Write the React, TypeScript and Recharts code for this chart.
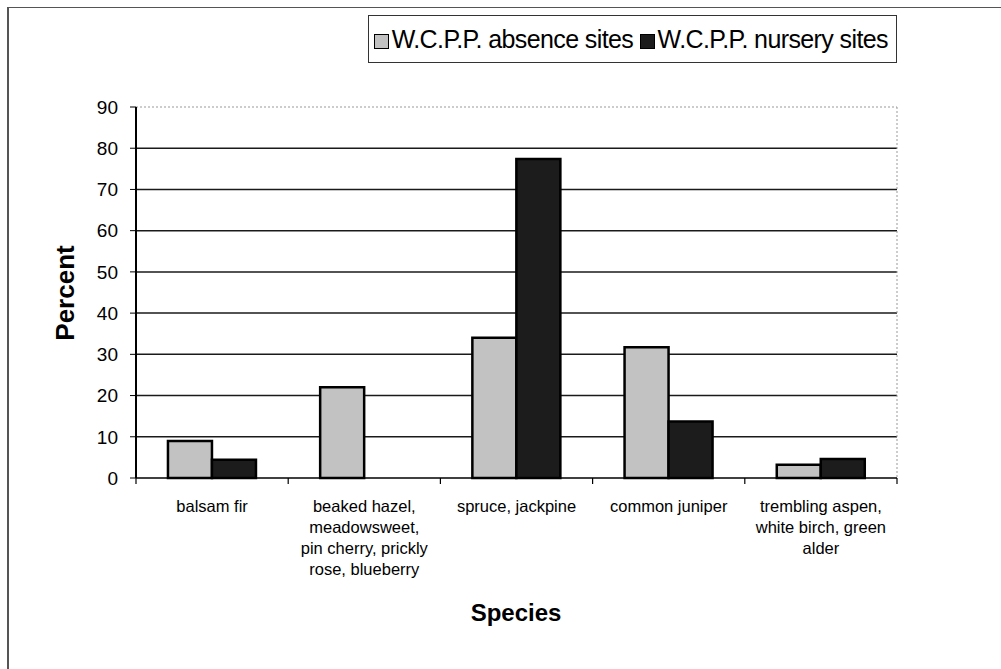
import { BarChart, Bar, XAxis, YAxis, CartesianGrid, ReferenceLine } from 'recharts';

const categories = [
  'balsam fir',
  'beaked hazel,\nmeadowsweet,\npin cherry, prickly\nrose, blueberry',
  'spruce, jackpine',
  'common juniper',
  'trembling aspen,\nwhite birch, green\nalder',
];
const absenceSites = [9, 22, 34, 31.7, 3.2];
const nurserySites = [4.4, 0, 77.4, 13.7, 4.6];
const yTicks = [0, 10, 20, 30, 40, 50, 60, 70, 80, 90];
const gridValues = [10, 20, 30, 40, 50, 60, 70, 80];

const data = categories.map((species, i) => ({
  species,
  absence: absenceSites[i],
  nursery: nurserySites[i],
}));

const FONT = '"Liberation Sans", Arial, sans-serif';
const LIGHT = '#c2c2c2';
const DARK = '#1c1c1c';

// category labels go under the band, tick marks sit on band edges
const SpeciesTick = (props: any) => {
  const { x, y, payload, index, visibleTicksCount } = props;
  const half = payload.offset || 76;
  const lines = String(payload.value).split('\n');
  const last = index === visibleTicksCount - 1;
  return (
    <g>
      <line x1={x - half} x2={x - half} y1={y} y2={y + 6} stroke="#000" strokeWidth={1.2} />
      {last && <line x1={x + half} x2={x + half} y1={y} y2={y + 6} stroke="#000" strokeWidth={1.2} />}
      <text x={x} y={y + 34} textAnchor="middle" fontSize={16.5} fontFamily={FONT} fill="#000">
        {lines.map((l, i) => (
          <tspan key={i} x={x} dy={i === 0 ? 0 : 21}>{l}</tspan>
        ))}
      </text>
    </g>
  );
};

const Swatch = ({ color }: { color: string }) => (
  <span
    style={{
      display: 'inline-block',
      width: 13,
      height: 13,
      background: color,
      border: '1px solid #000',
      marginRight: 3,
      verticalAlign: -1,
    }}
  />
);

export default function App() {
  return (
    <div style={{ position: 'absolute', left: 0, top: 0, width: 1001, height: 669, background: '#fff', overflow: 'hidden' }}>
      <div style={{ position: 'absolute', left: 7, top: 7, width: 1100, height: 800, borderLeft: '2px solid #555', borderTop: '1px solid #555' }} />
      <BarChart
        width={1001}
        height={669}
        data={data}
        margin={{ top: 107, right: 103, bottom: 41, left: 46 }}
        barCategoryGap="21%"
        barGap={0}
      >
        <CartesianGrid vertical={false} horizontalValues={gridValues} stroke="#1a1a1a" strokeWidth={1.5} />
        <ReferenceLine y={90} stroke="#999" strokeDasharray="2 2" />
        <XAxis
          dataKey="species"
          height={150}
          interval={0}
          tickSize={0}
          tickMargin={0}
          tickLine={false}
          axisLine={{ stroke: '#000', strokeWidth: 1.5 }}
          tick={<SpeciesTick />}
        />
        <YAxis
          width={90}
          domain={[0, 90]}
          ticks={yTicks}
          interval={0}
          tickSize={6}
          tickMargin={12}
          axisLine={{ stroke: '#000', strokeWidth: 2 }}
          tickLine={{ stroke: '#000' }}
          tick={{ fontSize: 19, fontFamily: FONT, fill: '#000' }}
        />
        <YAxis
          yAxisId="frame"
          orientation="right"
          width={1}
          domain={[0, 90]}
          tick={false}
          tickLine={false}
          axisLine={{ stroke: '#999', strokeDasharray: '2 2' }}
        />
        <Bar dataKey="absence" fill={LIGHT} stroke="#000" strokeWidth={2.5} isAnimationActive={false} />
        <Bar dataKey="nursery" fill={DARK} stroke="#000" strokeWidth={2.5} isAnimationActive={false} />
      </BarChart>

      <div
        style={{
          position: 'absolute',
          left: 65,
          top: 293,
          transform: 'translate(-50%, -50%) rotate(-90deg)',
          fontFamily: FONT,
          fontWeight: 'bold',
          fontSize: 26,
          whiteSpace: 'nowrap',
        }}
      >
        Percent
      </div>
      <div
        style={{
          position: 'absolute',
          left: 516,
          top: 613,
          transform: 'translate(-50%, -50%)',
          fontFamily: FONT,
          fontWeight: 'bold',
          fontSize: 24,
          whiteSpace: 'nowrap',
        }}
      >
        Species
      </div>

      <div
        style={{
          position: 'absolute',
          right: 1001 - 897,
          top: 15,
          height: 46,
          lineHeight: '46px',
          padding: '0 8px 0 5px',
          border: '1px solid #333',
          fontFamily: FONT,
          fontSize: 25,
          letterSpacing: -0.6,
          whiteSpace: 'nowrap',
          background: '#fff',
        }}
      >
        <Swatch color={LIGHT} />W.C.P.P. absence sites <Swatch color={DARK} />W.C.P.P. nursery sites
      </div>
    </div>
  );
}
